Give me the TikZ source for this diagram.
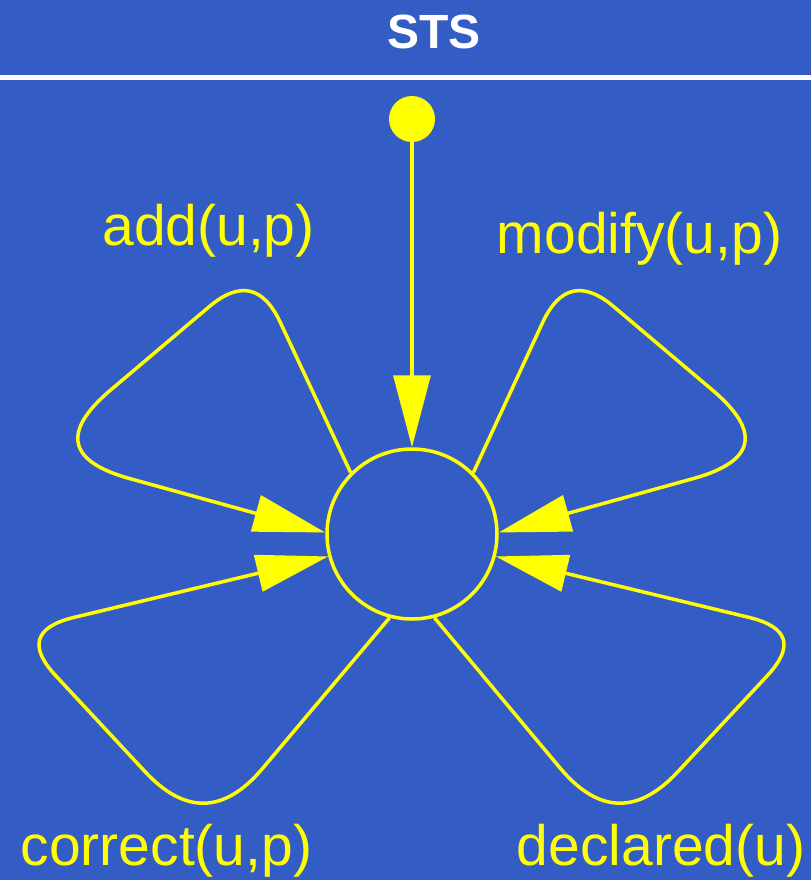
\documentclass[tikz,border=0pt]{standalone}
\usepackage{fontspec}
\setmainfont{Liberation Sans}
\usetikzlibrary{arrows.meta}
\definecolor{bgblue}{RGB}{51,93,196}
\definecolor{hiyellow}{RGB}{255,255,0}

\begin{document}
\begin{tikzpicture}[x=1pt, y=-1pt, >={Triangle[length=72pt, width=37pt]},
	lbl/.style={hiyellow, anchor=base, inner sep=0pt, font=\fontsize{57}{60}\selectfont},
	trans/.style={->, hiyellow, line width=3.5pt}]
	\useasboundingbox (0,0) rectangle (811,880);
	\fill[bgblue] (0,0) rectangle (811,880);
	\node[white, anchor=base, inner sep=0pt, font=\fontsize{48}{50}\selectfont\bfseries] (title) at (434,49) {STS};
	\draw[white, line width=5pt] (0,78) -- (811,78);
	\node[circle, fill=hiyellow, minimum size=46pt, inner sep=0pt] (init) at (412,119) {};
	\node[circle, draw=hiyellow, line width=3.5pt, minimum size=170pt, inner sep=0pt] (st) at (412,534) {};
	\draw[trans] (init) -- (st);
	\draw[trans] (st.135) -- (280.3,322.4) .. controls (263.4,286.1) and (239.7,280.9) .. (209.2,306.7)
		-- (110.9,389.8) .. controls (61.0,431.9) and (67.5,461.6) .. (130.5,478.8) -- (st.179);
	\draw[trans] (st.45) -- (542.7,322.4) .. controls (559.6,286.1) and (583.3,280.9) .. (613.8,306.7)
		-- (712.1,389.8) .. controls (762.0,431.9) and (755.5,461.6) .. (692.5,478.8) -- (st.1);
	\draw[trans] (st.255) -- (262.1,769.0) .. controls (224.0,813.7) and (185.0,814.6) .. (145.0,771.6)
		-- (55.9,675.9) .. controls (28.6,646.6) and (34.4,627.2) .. (73.2,617.6) -- (st.195);
	\draw[trans] (st.285) -- (560.9,769.0) .. controls (599.0,813.7) and (638.0,814.6) .. (678.0,771.6)
		-- (767.1,675.9) .. controls (794.4,646.6) and (788.6,627.2) .. (749.8,617.6) -- (st.345);
	\node[lbl] (add) at (208.5,245) {add(u,p)};
	\node[lbl] (modify) at (639.5,253) {modify(u,p)};
	\node[lbl] (correct) at (166.5,865) {correct(u,p)};
	\node[lbl] (declared) at (661,865) {declared(u)};
\end{tikzpicture}
\end{document}
